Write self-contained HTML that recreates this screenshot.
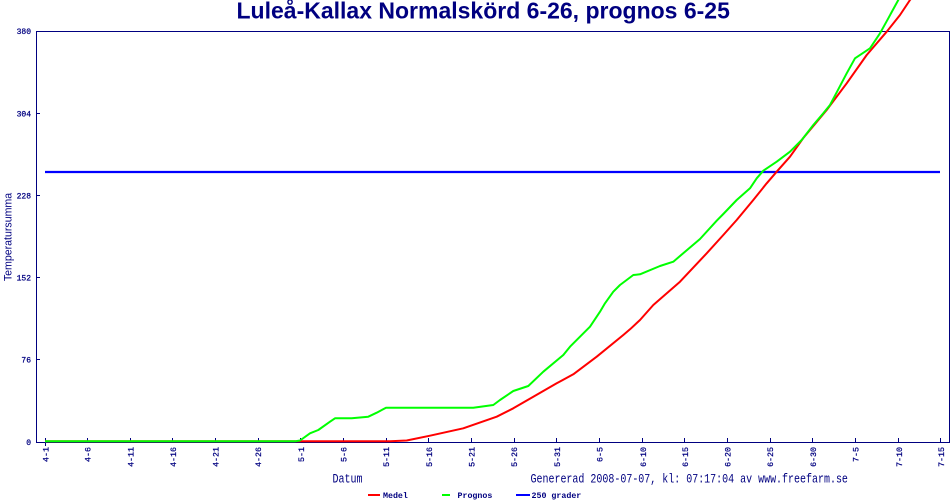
<!DOCTYPE html>
<html>
<head>
<meta charset="utf-8">
<style>
html,body{margin:0;padding:0;background:#fff;}
svg{display:block;}
</style>
</head>
<body>
<svg width="950" height="500" viewBox="0 0 950 500" xmlns="http://www.w3.org/2000/svg">
<rect x="0" y="0" width="950" height="500" fill="#fff"/>
<!-- Title -->
<text x="236.5" y="18.5" font-family="Liberation Sans, Arial, sans-serif" font-weight="bold" font-size="23" fill="#000080">Luleå-Kallax Normalskörd 6-26, prognos 6-25</text>

<!-- Frame -->
<g stroke="#000080" stroke-width="1" fill="none" shape-rendering="crispEdges">
<polyline points="36.5,442.5 36.5,31.5 949.5,31.5 949.5,442.5"/>
<line x1="36" y1="442.5" x2="950" y2="442.5"/>
</g>

<!-- Y ticks -->
<g stroke="#000080" stroke-width="1" shape-rendering="crispEdges">
<line x1="36" y1="113.5" x2="40" y2="113.5"/>
<line x1="36" y1="195.5" x2="40" y2="195.5"/>
<line x1="36" y1="277.5" x2="40" y2="277.5"/>
<line x1="36" y1="359.5" x2="40" y2="359.5"/>
</g>
<g font-family="Liberation Mono, monospace" font-size="8" fill="#000080" stroke="#000080" stroke-width="0.25" text-anchor="end">
<text x="31" y="34">380</text>
<text x="31" y="116.5">304</text>
<text x="31" y="198.5">228</text>
<text x="31" y="280.5">152</text>
<text x="31" y="362.5">76</text>
<text x="31" y="445">0</text>
</g>

<!-- Y axis title -->
<text transform="translate(11.5,237) rotate(-90)" text-anchor="middle" font-family="Liberation Sans, Arial, sans-serif" font-size="10.6" fill="#000080">Temperatursumma</text>

<!-- X ticks -->
<g stroke="#000080" stroke-width="1" shape-rendering="crispEdges">
<line x1="45.5" y1="438" x2="45.5" y2="446"/>
<line x1="87.5" y1="438" x2="87.5" y2="442"/>
<line x1="130.5" y1="438" x2="130.5" y2="442"/>
<line x1="172.5" y1="438" x2="172.5" y2="442"/>
<line x1="215.5" y1="438" x2="215.5" y2="442"/>
<line x1="258.5" y1="438" x2="258.5" y2="442"/>
<line x1="300.5" y1="438" x2="300.5" y2="442"/>
<line x1="343.5" y1="438" x2="343.5" y2="442"/>
<line x1="386.5" y1="438" x2="386.5" y2="442"/>
<line x1="428.5" y1="438" x2="428.5" y2="442"/>
<line x1="471.5" y1="438" x2="471.5" y2="442"/>
<line x1="514.5" y1="438" x2="514.5" y2="442"/>
<line x1="556.5" y1="438" x2="556.5" y2="442"/>
<line x1="599.5" y1="438" x2="599.5" y2="442"/>
<line x1="642.5" y1="438" x2="642.5" y2="442"/>
<line x1="684.5" y1="438" x2="684.5" y2="442"/>
<line x1="727.5" y1="438" x2="727.5" y2="442"/>
<line x1="770.5" y1="438" x2="770.5" y2="442"/>
<line x1="812.5" y1="438" x2="812.5" y2="442"/>
<line x1="855.5" y1="438" x2="855.5" y2="442"/>
<line x1="898.5" y1="438" x2="898.5" y2="442"/>
<line x1="940.5" y1="438" x2="940.5" y2="442"/>
</g>
<g font-family="Liberation Mono, monospace" font-size="8.3" fill="#000080" stroke="#000080" stroke-width="0.25" text-anchor="end">
<text transform="translate(48.5,447) rotate(-90)">4-1</text>
<text transform="translate(90.5,447) rotate(-90)">4-6</text>
<text transform="translate(133.3,447) rotate(-90)">4-11</text>
<text transform="translate(175.9,447) rotate(-90)">4-16</text>
<text transform="translate(218.5,447) rotate(-90)">4-21</text>
<text transform="translate(261.2,447) rotate(-90)">4-26</text>
<text transform="translate(303.8,447) rotate(-90)">5-1</text>
<text transform="translate(346.5,447) rotate(-90)">5-6</text>
<text transform="translate(389.2,447) rotate(-90)">5-11</text>
<text transform="translate(431.9,447) rotate(-90)">5-16</text>
<text transform="translate(474.5,447) rotate(-90)">5-21</text>
<text transform="translate(517.2,447) rotate(-90)">5-26</text>
<text transform="translate(559.9,447) rotate(-90)">5-31</text>
<text transform="translate(602.5,447) rotate(-90)">6-5</text>
<text transform="translate(645.9,447) rotate(-90)">6-10</text>
<text transform="translate(687.9,447) rotate(-90)">6-15</text>
<text transform="translate(730.5,447) rotate(-90)">6-20</text>
<text transform="translate(773.2,447) rotate(-90)">6-25</text>
<text transform="translate(815.9,447) rotate(-90)">6-30</text>
<text transform="translate(858.5,447) rotate(-90)">7-5</text>
<text transform="translate(901.9,447) rotate(-90)">7-10</text>
<text transform="translate(943.9,447) rotate(-90)">7-15</text>
</g>

<!-- 250 line -->
<line x1="45" y1="172" x2="940" y2="172" stroke="#0000ff" stroke-width="2.2"/>

<!-- Medel (red) -->
<polyline fill="none" stroke="#ff0000" stroke-width="2" stroke-linejoin="round" points="45,441.3 390,441.3 406.7,440.5 430,435.7 463.3,428.3 496.7,416.7 513.3,408.3 533.3,396.7 556.7,383.3 573.3,374.3 596.7,356.7 623.3,335 630,329.3 640,320 653.3,305 680,281.7 706.7,253.3 723.3,235 736.7,220 753.3,200 766.7,183.3 776.7,171.7 790,156.7 803.3,138 826.7,110 846.7,83.3 866.7,55 886.7,31.7 900,15 910,0 914,-5"/>

<!-- Prognos (green) -->
<polyline fill="none" stroke="#00ff00" stroke-width="2" stroke-linejoin="round" points="45,441.3 295,441.3 300,440.5 310,433.3 318.3,430 330,421.7 335,418.3 351.7,418.3 368.3,416.7 376.7,412.7 386,407.7 473.3,407.7 493.3,405 500,400 513.3,391 528.3,386 543.3,371.7 563.3,355 570,346.7 590,326.7 600,311.7 605,303.3 613.3,291.7 620,285 633.3,275 640,274.3 660,266 673.3,261.7 680,256 700,239 716.7,220.7 723.3,214 736.7,200 750,188.3 756.7,178.3 763.3,170.7 776.7,161.7 790,151.7 801.7,140 813.3,125 823.3,113.3 830,105 838.3,89.3 846.7,73.3 855,58.3 870,48.3 880,33.3 888.3,18.3 898.3,0 901,-5"/>

<!-- Bottom texts -->
<g font-family="Liberation Mono, monospace" font-size="10" fill="#000080">
<text transform="translate(332.5,482.5) scale(1,1.25)">Datum</text>
<text transform="translate(530.5,482.5) scale(1,1.25)">Genererad 2008-07-07, kl: 07:17:04 av www.freefarm.se</text>
</g>

<!-- Legend -->
<line x1="368" y1="495" x2="380" y2="495" stroke="#ff0000" stroke-width="2"/>
<line x1="442" y1="495" x2="450" y2="495" stroke="#00ff00" stroke-width="2"/>
<line x1="516" y1="495" x2="530" y2="495" stroke="#0000ff" stroke-width="2"/>
<g font-family="Liberation Mono, monospace" font-size="8.3" font-weight="bold" fill="#000080">
<text x="383" y="498">Medel</text>
<text x="457.5" y="498">Prognos</text>
<text x="531.5" y="498">250 grader</text>
</g>
</svg>
</body>
</html>
